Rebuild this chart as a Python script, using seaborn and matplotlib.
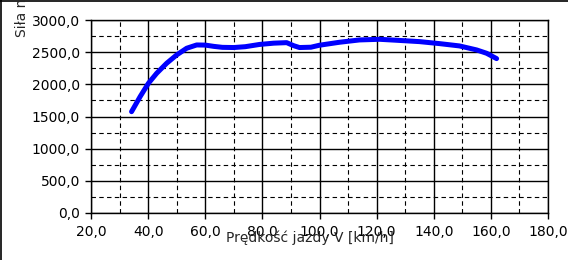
import matplotlib
matplotlib.use("Agg")
import matplotlib.pyplot as plt
import matplotlib.ticker as mticker
from matplotlib.lines import Line2D
import seaborn as sns
import pandas as pd

speed = [34.2, 37.2, 40.1, 43.0, 46.5, 50.0, 53.5, 57.0, 60.0, 63.0, 66.0, 70.0,
         74.0, 79.0, 84.0, 88.5, 91.0, 93.0, 97.0, 100.0, 107.0, 114.0, 121.0,
         127.0, 135.0, 142.0, 149.0, 155.0, 158.5, 162.0]
force = [1575, 1809, 2016, 2172, 2328, 2457, 2561, 2612, 2610, 2590, 2575, 2572,
         2585, 2620, 2640, 2648, 2600, 2572, 2577, 2608, 2654, 2690, 2700,
         2685, 2664, 2633, 2597, 2535, 2483, 2400]
x_ticks = [20, 40, 60, 80, 100, 120, 140, 160, 180]
y_ticks = [0, 500, 1000, 1500, 2000, 2500, 3000]
x_label = "Prędkość jazdy V [km/h]"
y_label = "Siła napędowa F [N]"

df = pd.DataFrame({"v": speed, "F": force})

sns.set_style("white")
plt.rcParams["font.family"] = ["DejaVu Sans"]

fig = plt.figure(figsize=(5.68, 2.6), dpi=100)
ax = fig.add_axes([91/568, 1 - 213/260, (548-91)/568, (213-20)/260])

sns.lineplot(data=df, x="v", y="F", ax=ax, sort=False, color="#0000ff",
             linewidth=3.6, zorder=5)

ax.set_xlim(20, 180)
ax.set_ylim(0, 3000)
ax.set_xticks(x_ticks)
ax.set_yticks(y_ticks)
ax.xaxis.set_minor_locator(mticker.MultipleLocator(10))
ax.yaxis.set_minor_locator(mticker.MultipleLocator(250))
fmt = mticker.FuncFormatter(lambda v, p: f"{v:.1f}".replace(".", ","))
ax.xaxis.set_major_formatter(fmt)
ax.yaxis.set_major_formatter(fmt)

ax.grid(which="major", color="black", linewidth=1.0, linestyle="-")
ax.grid(which="minor", color="black", linewidth=0.8, linestyle=(0, (4, 3)))
ax.set_axisbelow(True)
ax.tick_params(which="major", direction="out", length=4, width=1, colors="black",
               labelsize=10, bottom=True, left=True)
ax.tick_params(axis="x", which="major", pad=5)
ax.tick_params(axis="y", which="major", pad=4)
ax.tick_params(which="minor", length=0)
for s in ax.spines.values():
    s.set_color("black")
    s.set_linewidth(1.0)

ax.set_xlabel("")
ax.set_ylabel("")
fig.text(310/568, 1 - 238/260, x_label, ha="center", va="center", fontsize=10)
fig.text(22/568, 1 - 37/260, y_label, rotation=90, ha="center", va="bottom", fontsize=10)

fig.add_artist(Line2D([0.8/568, 0.8/568], [0, 1], color="black", linewidth=1.2,
                      transform=fig.transFigure))
fig.add_artist(Line2D([0, 1], [1 - 0.8/260, 1 - 0.8/260], color="black", linewidth=1.2,
                      transform=fig.transFigure))

fig.savefig("out.png", dpi=100)
